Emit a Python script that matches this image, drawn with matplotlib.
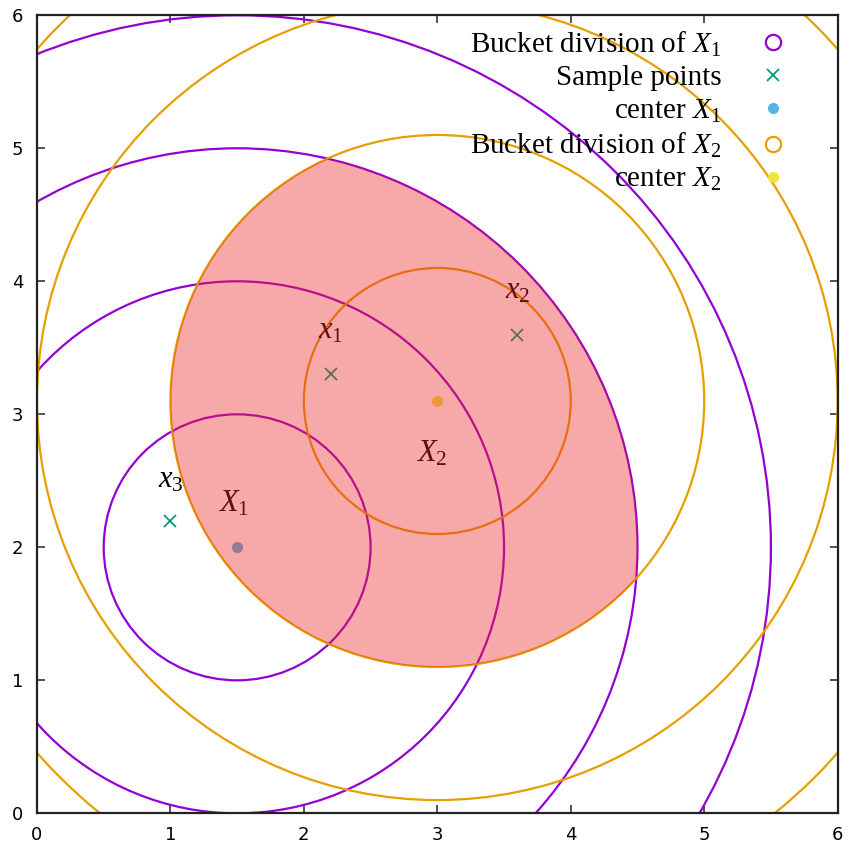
#!/usr/bin/env python3
"""Bucket divisions around two centres, with the overlap region shaded."""
import matplotlib
matplotlib.use("Agg")
import matplotlib.pyplot as plt
from matplotlib.patches import Circle

OUTPUT = "out.png"

# --- data -------------------------------------------------------------
center_x1 = (1.5, 2.0)
center_x2 = (3.0, 3.1)
radii_x1 = [1, 2, 3, 4]
radii_x2 = [1, 2, 3, 4]

sample_x = [2.2, 3.6, 1.0]
sample_y = [3.3, 3.6, 2.2]
sample_names = ["$x_1$", "$x_2$", "$x_3$"]
sample_label_xy = [(2.2, 3.52), (3.6, 3.82), (1.0, 2.4)]
center_label_xy = [(1.47, 2.22), (2.96, 2.6)]

# shaded region = inside X2 radius 2 and inside X1 radius 3
shade_r_x2 = 2
shade_r_x1 = 3

PURPLE = "#9400d3"
GREEN = "#009e73"
BLUE = "#56b4e9"
ORANGE = "#e69f00"
YELLOW = "#f0e442"

plt.rcParams["mathtext.fontset"] = "custom"
plt.rcParams["mathtext.rm"] = "Liberation Serif"
plt.rcParams["mathtext.it"] = "Liberation Serif:italic"


def main():
    fig = plt.figure(figsize=(8.6, 8.49), dpi=100)
    ax = fig.add_axes([0.043, 0.042, 0.931, 0.940])
    ax.set_xlim(0, 6)
    ax.set_ylim(0, 6)

    for r in radii_x1:
        ax.add_patch(Circle(center_x1, r, fill=False, ec=PURPLE, lw=1.6, zorder=2))
    for r in radii_x2:
        ax.add_patch(Circle(center_x2, r, fill=False, ec=ORANGE, lw=1.6, zorder=2))

    ax.plot(sample_x, sample_y, "x", color=GREEN, ms=9, mew=1.3, zorder=3)
    ax.plot(*center_x1, "o", color=BLUE, ms=7, zorder=3)
    ax.plot(*center_x2, "o", color=YELLOW, ms=7, zorder=3)

    for name, (tx, ty) in zip(sample_names, sample_label_xy):
        ax.text(tx, ty, name, fontsize=22, ha="center", va="bottom", zorder=3)
    for name, (tx, ty) in zip(["$X_1$", "$X_2$"], center_label_xy):
        ax.text(tx, ty, name, fontsize=22, ha="center", va="bottom", zorder=3)

    # overlap shading, drawn on top so everything below shows through
    clip = Circle(center_x1, shade_r_x1, transform=ax.transData)
    shade = Circle(center_x2, shade_r_x2, fc=(0.93, 0.15, 0.15), alpha=0.4,
                   ec="none", zorder=5)
    ax.add_patch(shade)
    shade.set_clip_path(clip)

    # legend (gnuplot style: text right-aligned, marker on the right)
    h = [
        ax.plot([], [], "o", mfc="none", mec=PURPLE, ms=11, mew=1.6)[0],
        ax.plot([], [], "x", color=GREEN, ms=9, mew=1.3)[0],
        ax.plot([], [], "o", color=BLUE, ms=7)[0],
        ax.plot([], [], "o", mfc="none", mec=ORANGE, ms=11, mew=1.6)[0],
        ax.plot([], [], "o", color=YELLOW, ms=7)[0],
    ]
    labels = ["Bucket division of $X_1$", "Sample points", "center $X_1$",
              "Bucket division of $X_2$", "center $X_2$"]
    ax.legend(h, labels, loc="upper right", markerfirst=False, frameon=False,
              prop={"family": "Liberation Serif", "size": 21},
              handlelength=1.5, handletextpad=1.0, labelspacing=0.21,
              borderaxespad=0.2, bbox_to_anchor=(0.968, 1.004))

    ax.set_xticks(range(7))
    ax.set_yticks(range(7))
    ax.tick_params(direction="in", top=True, right=True, length=6, width=1.2,
                   labelsize=13, color="#333333")
    ax.tick_params(axis="x", pad=9)
    ax.tick_params(axis="y", pad=10)
    for s in ax.spines.values():
        s.set_linewidth(1.6)
        s.set_color("#222222")

    fig.savefig(OUTPUT, dpi=100)
    plt.close(fig)


if __name__ == "__main__":
    main()
